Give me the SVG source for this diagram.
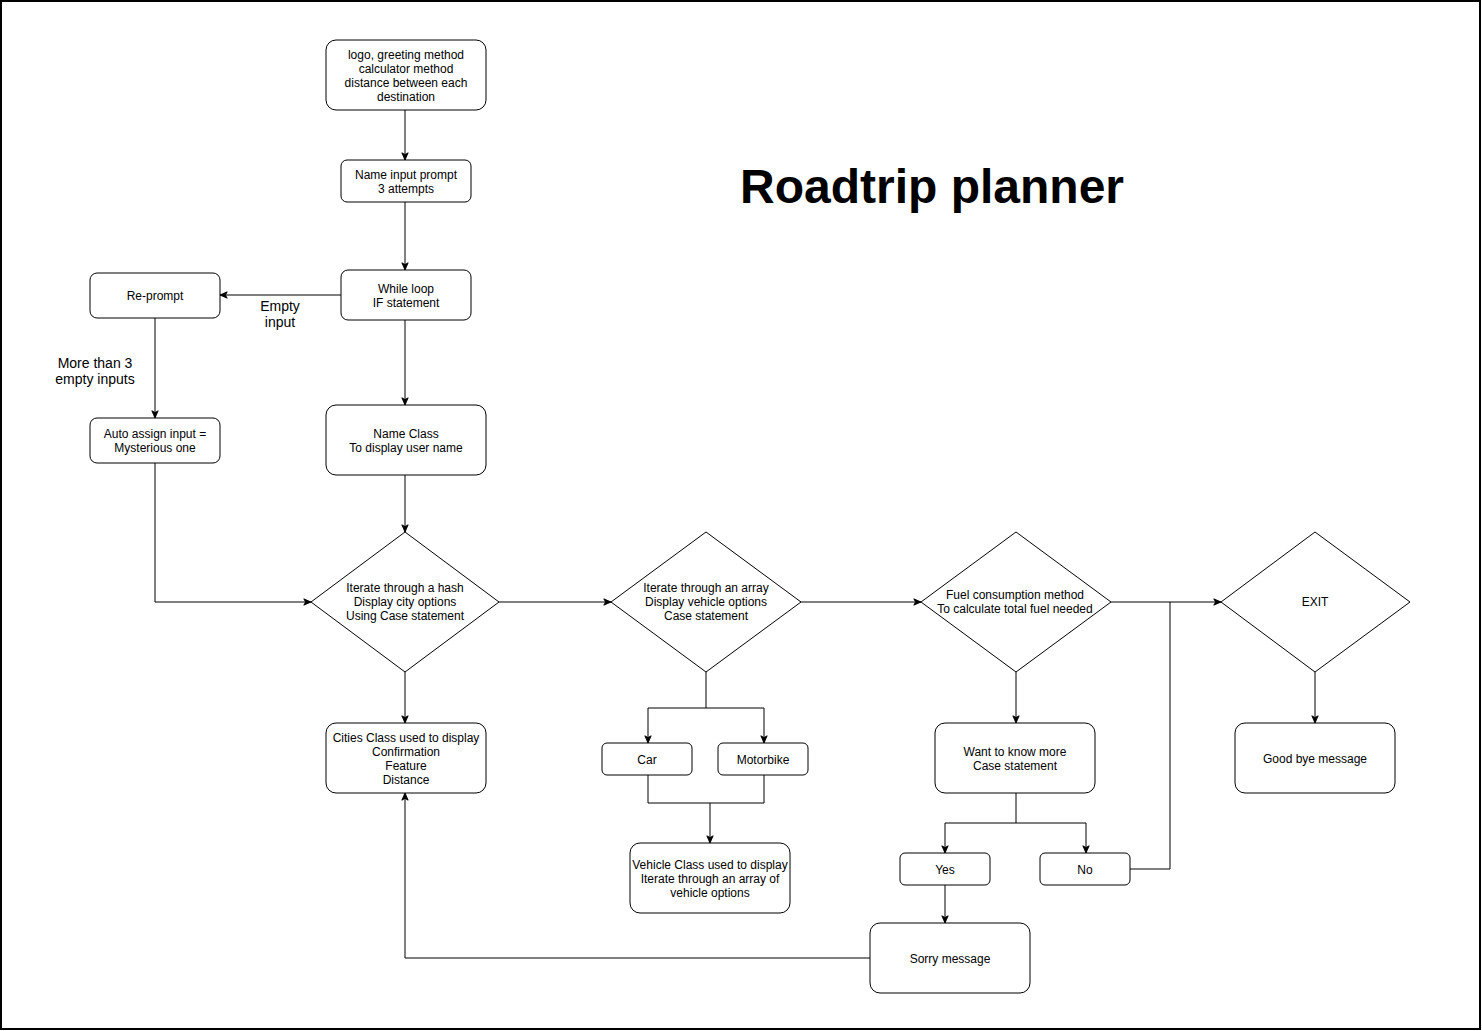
<svg xmlns="http://www.w3.org/2000/svg" width="1482" height="1031" viewBox="0 0 1482 1031">
<style>
.n{fill:#fff;stroke:#000;stroke-width:1}
.t{font-family:"Liberation Sans",Arial,sans-serif;font-size:12px;fill:#000;text-anchor:middle}
.l{font-family:"Liberation Sans",Arial,sans-serif;font-size:14px;fill:#000;text-anchor:middle}
.c{fill:none;stroke:#000;stroke-width:1}
.a{marker-end:url(#arr)}
</style>
<defs>
<marker id="arr" viewBox="0 0 10 10" refX="9" refY="5" markerWidth="9" markerHeight="9" markerUnits="userSpaceOnUse" orient="auto">
<path d="M1,1.5 L9,5 L1,8.5 L3,5 z" fill="#000" stroke="#000" stroke-width="1"/>
</marker>
</defs>
<rect x="0" y="0" width="1482" height="1031" fill="#fff"/>
<rect x="1" y="1" width="1479" height="1028" fill="none" stroke="#000" stroke-width="2"/>
<text x="932" y="203" font-family="Liberation Sans,Arial,sans-serif" font-size="48" font-weight="bold" text-anchor="middle">Roadtrip planner</text>

<g id="connectors">
<path class="c a" d="M405,110 V160"/>
<path class="c a" d="M405,202 V270"/>
<path class="c a" d="M341,295 H220"/>
<path class="c a" d="M155,318 V418"/>
<path class="c a" d="M405,320 V405"/>
<path class="c a" d="M405,475 V532"/>
<path class="c a" d="M155,463 V602 H311"/>
<path class="c a" d="M499,602 H611"/>
<path class="c a" d="M405,672 V723"/>
<path class="c a" d="M706,672 V708 H648 V743"/>
<path class="c a" d="M706,708 H764 V743"/>
<path class="c a" d="M648,775 V803 H710 V843"/>
<path class="c" d="M764,775 V803 H710"/>
<path class="c a" d="M801,602 H921"/>
<path class="c a" d="M1111,602 H1221"/>
<path class="c a" d="M1016,672 V723"/>
<path class="c a" d="M1016,793 V823 H945 V853"/>
<path class="c a" d="M1016,823 H1086 V853"/>
<path class="c" d="M1130,869 H1170 V602"/>
<path class="c a" d="M945,885 V923"/>
<path class="c a" d="M870,958 H405 V793"/>
<path class="c a" d="M1315,672 V723"/>
<text class="l" x="280" y="311">Empty</text>
<text class="l" x="280" y="327">input</text>
<text class="l" x="95" y="368">More than 3</text>
<text class="l" x="95" y="384">empty inputs</text>
</g>

<g id="n-logo"><rect class="n" x="326" y="40" width="160" height="70" rx="10"/>
<text class="t" x="406" y="59">logo, greeting method</text>
<text class="t" x="406" y="73">calculator method</text>
<text class="t" x="406" y="87">distance between each</text>
<text class="t" x="406" y="101">destination</text></g>

<g id="n-nameinput"><rect class="n" x="341" y="160" width="130" height="42" rx="6"/>
<text class="t" x="406" y="179">Name input prompt</text>
<text class="t" x="406" y="193">3 attempts</text></g>

<g id="n-while"><rect class="n" x="341" y="270" width="130" height="50" rx="7"/>
<text class="t" x="406" y="293">While loop</text>
<text class="t" x="406" y="307">IF statement</text></g>

<g id="n-reprompt"><rect class="n" x="90" y="273" width="130" height="45" rx="7"/>
<text class="t" x="155" y="300">Re-prompt</text></g>

<g id="n-auto"><rect class="n" x="90" y="418" width="130" height="45" rx="7"/>
<text class="t" x="155" y="438">Auto assign input =</text>
<text class="t" x="155" y="452">Mysterious one</text></g>

<g id="n-nameclass"><rect class="n" x="326" y="405" width="160" height="70" rx="10"/>
<text class="t" x="406" y="438">Name Class</text>
<text class="t" x="406" y="452">To display user name</text></g>

<g id="n-hash"><polygon class="n" points="405,532 499,602 405,672 311,602"/>
<text class="t" x="405" y="592">Iterate through a hash</text>
<text class="t" x="405" y="606">Display city options</text>
<text class="t" x="405" y="620">Using Case statement</text></g>

<g id="n-array"><polygon class="n" points="706,532 801,602 706,672 611,602"/>
<text class="t" x="706" y="592">Iterate through an array</text>
<text class="t" x="706" y="606">Display vehicle options</text>
<text class="t" x="706" y="620">Case statement</text></g>

<g id="n-fuel"><polygon class="n" points="1016,532 1111,602 1016,672 921,602"/>
<text class="t" x="1015" y="599">Fuel consumption method</text>
<text class="t" x="1015" y="613">To calculate total fuel needed</text></g>

<g id="n-exit"><polygon class="n" points="1315,532 1410,602 1315,672 1221,602"/>
<text class="t" x="1315" y="606">EXIT</text></g>

<g id="n-cities"><rect class="n" x="326" y="723" width="160" height="70" rx="10"/>
<text class="t" x="406" y="742">Cities Class used to display</text>
<text class="t" x="406" y="756">Confirmation</text>
<text class="t" x="406" y="770">Feature</text>
<text class="t" x="406" y="784">Distance</text></g>

<g id="n-car"><rect class="n" x="602" y="743" width="90" height="32" rx="5"/>
<text class="t" x="647" y="764">Car</text></g>

<g id="n-motorbike"><rect class="n" x="718" y="743" width="90" height="32" rx="5"/>
<text class="t" x="763" y="764">Motorbike</text></g>

<g id="n-vehicle"><rect class="n" x="630" y="843" width="160" height="70" rx="10"/>
<text class="t" x="710" y="869">Vehicle Class used to display</text>
<text class="t" x="710" y="883">Iterate through an array of</text>
<text class="t" x="710" y="897">vehicle options</text></g>

<g id="n-want"><rect class="n" x="935" y="723" width="160" height="70" rx="10"/>
<text class="t" x="1015" y="756">Want to know more</text>
<text class="t" x="1015" y="770">Case statement</text></g>

<g id="n-yes"><rect class="n" x="900" y="853" width="90" height="32" rx="5"/>
<text class="t" x="945" y="874">Yes</text></g>

<g id="n-no"><rect class="n" x="1040" y="853" width="90" height="32" rx="5"/>
<text class="t" x="1085" y="874">No</text></g>

<g id="n-sorry"><rect class="n" x="870" y="923" width="160" height="70" rx="10"/>
<text class="t" x="950" y="963">Sorry message</text></g>

<g id="n-goodbye"><rect class="n" x="1235" y="723" width="160" height="70" rx="10"/>
<text class="t" x="1315" y="763">Good bye message</text></g>
</svg>
